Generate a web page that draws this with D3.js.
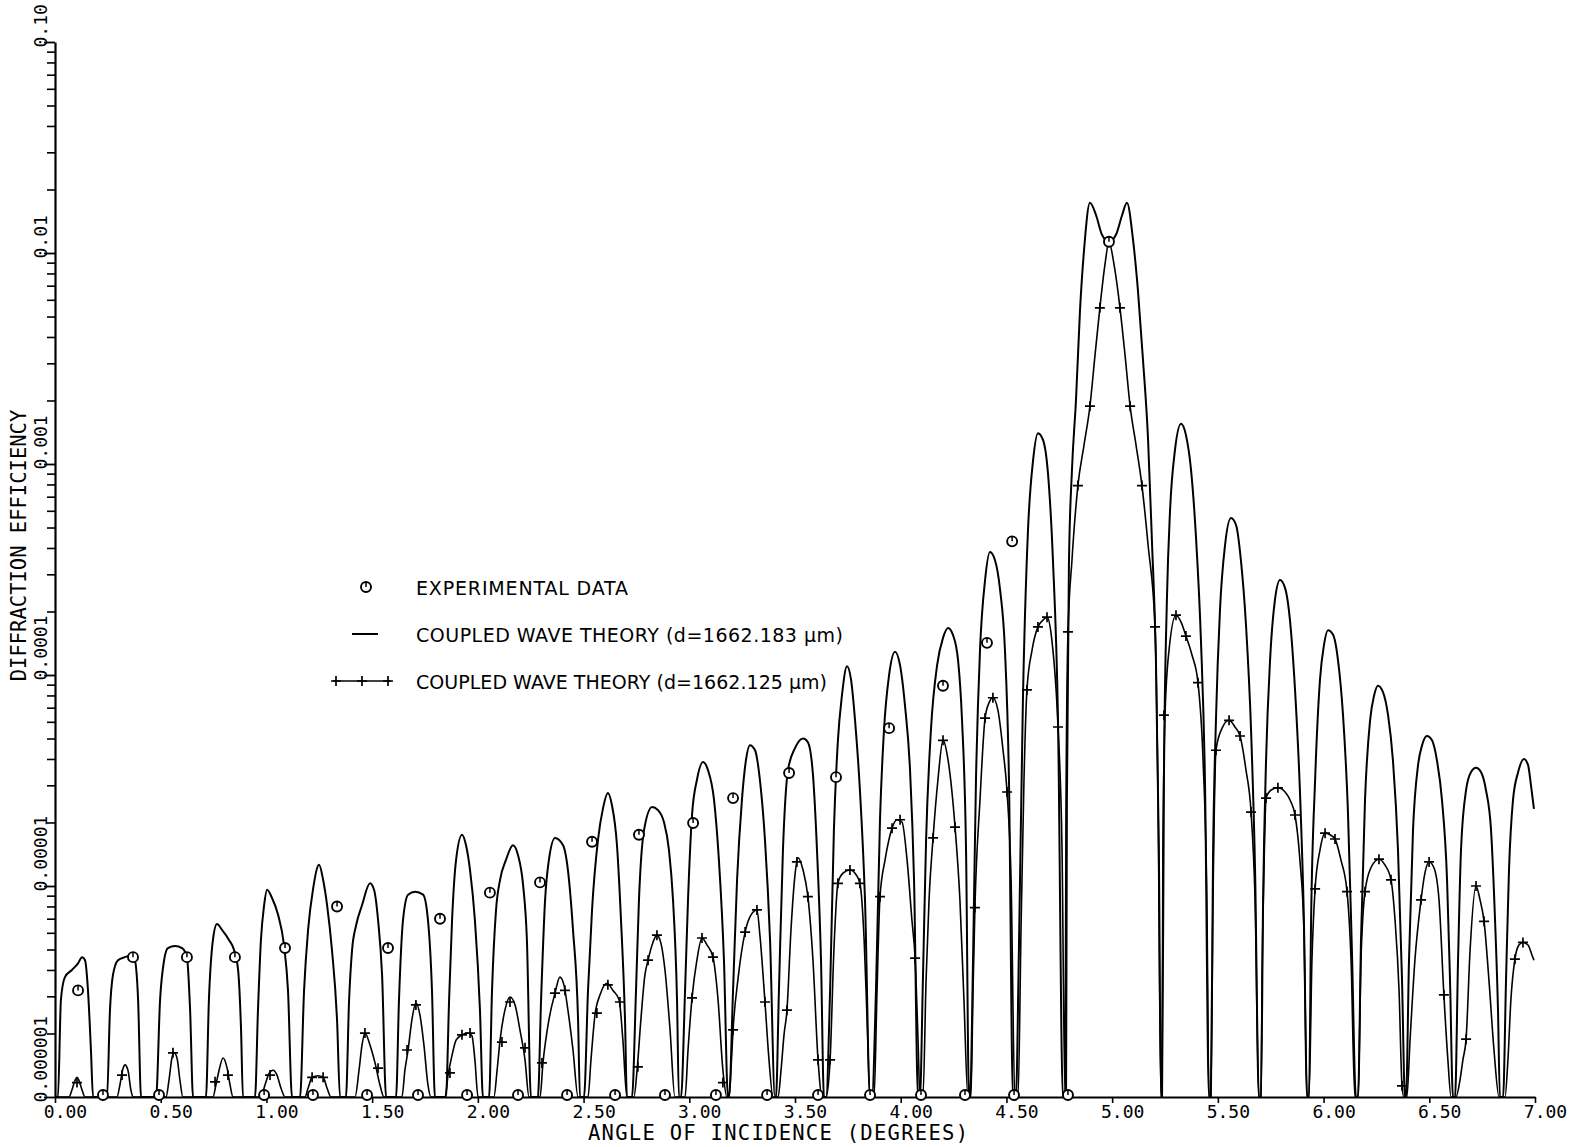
<!DOCTYPE html>
<html>
<head>
<meta charset="utf-8">
<script src="https://cdn.jsdelivr.net/npm/d3@7"></script>
<style>
  body { margin: 0; background: #fff; }
  svg { display: block; }
</style>
</head>
<body>
<script>
// Diffraction efficiency vs angle of incidence

// coupled wave theory, d = 1662.183 um : [angle (deg), efficiency]
const solidCurve = [
  [0,1e-6],[0.014,1e-6],[0.028,2.89e-6],[0.047,3.7e-6],[0.080,4.0e-6],[0.109,4.3e-6],[0.128,4.6e-6],[0.142,4.45e-6],[0.156,3.2e-6],[0.170,1.67e-6],[0.180,1e-6],
  [0.246,1e-6],[0.260,2.58e-6],[0.274,3.78e-6],[0.298,4.45e-6],[0.331,4.6e-6],[0.364,4.7e-6],[0.378,4.45e-6],[0.393,2.89e-6],[0.407,1e-6],
  [0.478,1e-6],[0.497,2.89e-6],[0.516,4.45e-6],[0.534,5.08e-6],[0.568,5.2e-6],[0.601,5.08e-6],[0.624,4.6e-6],[0.639,2.58e-6],[0.653,1e-6],
  [0.714,1e-6],[0.728,2.89e-6],[0.747,5.55e-6],[0.766,6.6e-6],[0.790,6.2e-6],[0.823,5.55e-6],[0.847,4.97e-6],[0.866,4.0e-6],[0.880,2.08e-6],[0.889,1e-6],
  [0.946,1e-6],[0.960,2.58e-6],[0.974,5.55e-6],[0.989,8.1e-6],[1.003,9.6e-6],[1.026,8.8e-6],[1.055,7.3e-6],[1.083,5.25e-6],[1.102,3.2e-6],[1.121,1e-6],
  [1.159,1e-6],[1.178,3.2e-6],[1.197,6.2e-6],[1.220,9.6e-6],[1.249,1.26e-5],[1.268,1.07e-5],[1.287,8.1e-6],[1.310,4.97e-6],[1.334,2.32e-6],[1.348,1e-6],
  [1.376,1e-6],[1.391,2.89e-6],[1.405,4.97e-6],[1.424,6.5e-6],[1.452,8.1e-6],[1.490,1.03e-5],[1.509,9.6e-6],[1.528,6.9e-6],[1.547,3.78e-6],[1.566,1e-6],
  [1.613,1e-6],[1.627,2.89e-6],[1.646,6.9e-6],[1.670,9.1e-6],[1.703,9.4e-6],[1.741,9.1e-6],[1.764,6.9e-6],[1.783,3.2e-6],[1.797,1e-6],
  [1.849,1e-6],[1.864,2.89e-6],[1.878,6.9e-6],[1.897,1.33e-5],[1.925,1.75e-5],[1.944,1.56e-5],[1.963,1.19e-5],[1.986,6.9e-6],[2.010,2.58e-6],[2.024,1e-6],
  [2.053,1e-6],[2.067,3.2e-6],[2.086,7.7e-6],[2.105,1.07e-5],[2.133,1.33e-5],[2.166,1.56e-5],[2.190,1.40e-5],[2.214,1.01e-5],[2.232,5.55e-6],[2.251,1e-6],
  [2.284,1e-6],[2.299,2.89e-6],[2.318,8.6e-6],[2.336,1.33e-5],[2.365,1.69e-5],[2.403,1.56e-5],[2.426,1.19e-5],[2.450,6.2e-6],[2.474,2.32e-6],[2.483,1e-6],
  [2.502,1e-6],[2.521,3.2e-6],[2.540,7.7e-6],[2.568,1.65e-5],[2.592,2.34e-5],[2.615,2.76e-5],[2.634,2.42e-5],[2.658,1.56e-5],[2.677,6.9e-6],[2.696,2.32e-6],[2.705,1e-6],
  [2.729,1e-6],[2.748,3.2e-6],[2.762,8.6e-6],[2.786,1.84e-5],[2.824,2.37e-5],[2.852,2.29e-5],[2.880,2.01e-5],[2.904,1.48e-5],[2.923,8.6e-6],[2.942,2.89e-6],[2.951,1e-6],
  [2.961,1e-6],[2.980,3.2e-6],[2.994,8.6e-6],[3.013,2.17e-5],[3.036,3.18e-5],[3.065,3.87e-5],[3.088,3.55e-5],[3.117,2.56e-5],[3.140,1.33e-5],[3.164,4.45e-6],[3.183,1e-6],
  [3.188,1e-6],[3.207,3.2e-6],[3.226,1.07e-5],[3.249,2.56e-5],[3.268,3.95e-5],[3.287,4.65e-5],[3.311,4.4e-5],[3.334,3.18e-5],[3.358,1.65e-5],[3.382,5.55e-6],[3.405,1e-6],
  [3.410,1e-6],[3.424,3.2e-6],[3.443,1.48e-5],[3.467,3.55e-5],[3.500,4.5e-5],[3.538,5.0e-5],[3.561,4.8e-5],[3.585,3.36e-5],[3.604,1.48e-5],[3.623,4.45e-6],[3.637,1e-6],
  [3.647,1e-6],[3.666,3.2e-6],[3.684,1.84e-5],[3.703,4.9e-5],[3.722,8.0e-5],[3.746,1.10e-4],[3.765,9.5e-5],[3.784,6.1e-5],[3.807,2.85e-5],[3.831,8.6e-6],[3.855,1e-6],
  [3.864,1e-6],[3.883,3.2e-6],[3.902,2.06e-5],[3.921,5.5e-5],[3.945,1.0e-4],[3.973,1.29e-4],[3.997,1.11e-4],[4.020,7.2e-5],[4.044,3.55e-5],[4.063,1.07e-5],[4.082,1e-6],
  [4.091,1e-6],[4.105,3.6e-6],[4.120,1.65e-5],[4.143,5.5e-5],[4.172,1.11e-4],[4.200,1.50e-4],[4.224,1.67e-4],[4.247,1.55e-4],[4.271,1.18e-4],[4.290,6.1e-5],[4.309,1.48e-5],[4.323,1e-6],
  [4.328,1e-6],[4.342,4.45e-6],[4.356,3.18e-5],[4.375,1.31e-4],[4.399,2.82e-4],[4.422,3.83e-4],[4.446,3.5e-4],[4.470,2.53e-4],[4.493,1.31e-4],[4.512,3.18e-5],[4.531,1e-6],
  [4.545,1e-6],[4.559,4.97e-6],[4.578,7.6e-5],[4.602,4.85e-4],[4.626,1.04e-3],[4.649,1.40e-3],[4.673,1.30e-3],[4.697,8.9e-4],[4.720,3.5e-4],[4.744,6.1e-5],[4.767,1e-6],
  [4.782,1e-6],[4.786,2.56e-5],[4.796,3.5e-4],[4.810,9.4e-4],[4.829,2.01e-3],[4.848,5.35e-3],[4.867,1.03e-2],[4.895,1.73e-2],[4.924,1.51e-2],[4.952,1.22e-2],[4.985,1.13e-2],
  [5.018,1.22e-2],[5.047,1.51e-2],[5.070,1.73e-2],[5.099,1.15e-2],[5.122,6.65e-3],[5.146,3.11e-3],[5.170,1.30e-3],[5.188,4.37e-4],[5.207,1.18e-4],[5.221,1.48e-5],[5.231,1e-6],
  [5.236,1e-6],[5.245,3.18e-5],[5.259,2.27e-4],[5.274,6.05e-4],[5.297,1.16e-3],[5.326,1.55e-3],[5.349,1.37e-3],[5.373,9.4e-4],[5.396,4.6e-4],[5.420,1.46e-4],[5.439,3.18e-5],[5.458,1e-6],
  [5.467,1e-6],[5.477,1.33e-5],[5.491,6.1e-5],[5.510,2.03e-4],[5.534,4.13e-4],[5.562,5.55e-4],[5.586,5.14e-4],[5.609,3.5e-4],[5.633,1.73e-4],[5.657,5.5e-5],[5.676,1.19e-5],[5.694,1e-6],
  [5.704,1e-6],[5.714,8.6e-6],[5.728,3.95e-5],[5.747,1.18e-4],[5.770,2.27e-4],[5.794,2.82e-4],[5.818,2.58e-4],[5.841,1.82e-4],[5.865,8.5e-5],[5.888,2.85e-5],[5.907,6.9e-6],[5.922,1e-6],
  [5.931,1e-6],[5.941,6.9e-6],[5.960,3.18e-5],[5.983,9.5e-5],[6.002,1.39e-4],[6.021,1.63e-4],[6.045,1.55e-4],[6.068,1.18e-4],[6.092,6.45e-5],[6.115,2.29e-5],[6.134,4.97e-6],[6.153,1e-6],
  [6.163,1e-6],[6.177,5.55e-6],[6.196,2.56e-5],[6.220,6.1e-5],[6.239,8.0e-5],[6.257,8.9e-5],[6.281,8.3e-5],[6.305,6.45e-5],[6.328,3.95e-5],[6.352,1.48e-5],[6.371,3.6e-6],[6.385,1e-6],
  [6.390,1e-6],[6.404,4.45e-6],[6.423,1.84e-5],[6.447,3.75e-5],[6.466,4.65e-5],[6.489,5.14e-5],[6.513,4.9e-5],[6.536,3.95e-5],[6.560,2.56e-5],[6.584,1.07e-5],[6.598,3.6e-6],[6.612,1e-6],
  [6.622,1e-6],[6.636,4.45e-6],[6.650,1.48e-5],[6.674,2.85e-5],[6.697,3.46e-5],[6.721,3.63e-5],[6.745,3.46e-5],[6.768,2.85e-5],[6.792,1.84e-5],[6.811,6.9e-6],[6.825,2.58e-6],[6.834,1e-6],
  [6.849,1e-6],[6.863,3.6e-6],[6.877,1.19e-5],[6.896,2.56e-5],[6.920,3.46e-5],[6.948,4.0e-5],[6.967,3.75e-5],[6.981,3.0e-5],[6.995,2.32e-5]
];

// coupled wave theory, d = 1662.125 um
const crossCurve = [
  [0,1e-6],[0.066,1e-6],[0.080,1.08e-6],[0.095,1.20e-6],[0.104,1.24e-6],[0.113,1.20e-6],[0.128,1.08e-6],[0.142,1e-6],
  [0.293,1e-6],[0.307,1.14e-6],[0.322,1.37e-6],[0.331,1.42e-6],[0.345,1.34e-6],[0.359,1.08e-6],[0.369,1e-6],
  [0.525,1e-6],[0.539,1.20e-6],[0.553,1.53e-6],[0.563,1.62e-6],[0.577,1.53e-6],[0.591,1.20e-6],[0.605,1e-6],
  [0.747,1e-6],[0.761,1.14e-6],[0.776,1.34e-6],[0.795,1.53e-6],[0.814,1.37e-6],[0.828,1.14e-6],[0.842,1e-6],
  [0.974,1e-6],[0.993,1.14e-6],[1.012,1.29e-6],[1.031,1.34e-6],[1.050,1.27e-6],[1.069,1.10e-6],[1.088,1e-6],
  [1.182,1e-6],[1.197,1.10e-6],[1.216,1.24e-6],[1.244,1.26e-6],[1.268,1.24e-6],[1.287,1.10e-6],[1.305,1e-6],
  [1.419,1e-6],[1.438,1.34e-6],[1.452,1.76e-6],[1.466,2.01e-6],[1.490,1.76e-6],[1.513,1.46e-6],[1.537,1.14e-6],[1.556,1e-6],
  [1.641,1e-6],[1.655,1.34e-6],[1.670,1.67e-6],[1.688,2.32e-6],[1.707,2.79e-6],[1.726,2.45e-6],[1.745,1.76e-6],[1.764,1.14e-6],[1.778,1e-6],
  [1.845,1e-6],[1.859,1.27e-6],[1.878,1.58e-6],[1.897,1.86e-6],[1.925,1.97e-6],[1.953,2.01e-6],[1.972,1.95e-6],[1.986,1.50e-6],[2.001,1e-6],
  [2.076,1e-6],[2.091,1.34e-6],[2.105,1.86e-6],[2.128,2.58e-6],[2.152,2.98e-6],[2.176,2.73e-6],[2.199,2.08e-6],[2.223,1.50e-6],[2.242,1e-6],
  [2.294,1e-6],[2.308,1.45e-6],[2.336,2.32e-6],[2.365,3.11e-6],[2.388,3.70e-6],[2.407,3.4e-6],[2.426,2.58e-6],[2.450,1.67e-6],[2.474,1e-6],
  [2.521,1e-6],[2.535,1.50e-6],[2.554,2.45e-6],[2.578,3.05e-6],[2.611,3.46e-6],[2.639,3.2e-6],[2.668,2.89e-6],[2.686,1.86e-6],[2.705,1e-6],
  [2.738,1e-6],[2.753,1.34e-6],[2.771,2.32e-6],[2.790,3.78e-6],[2.805,4.45e-6],[2.828,5.4e-6],[2.847,5.85e-6],[2.866,5.35e-6],[2.885,4.0e-6],[2.909,2.08e-6],[2.932,1e-6],
  [2.980,1e-6],[2.994,1.67e-6],[3.013,2.95e-6],[3.036,4.45e-6],[3.060,5.67e-6],[3.084,5.25e-6],[3.112,4.6e-6],[3.136,2.89e-6],[3.159,1.34e-6],[3.178,1e-6],
  [3.188,1e-6],[3.197,1.34e-6],[3.207,2.08e-6],[3.230,3.6e-6],[3.264,6.05e-6],[3.292,7.3e-6],[3.320,7.7e-6],[3.334,5.85e-6],[3.358,2.82e-6],[3.377,1.50e-6],[3.396,1e-6],
  [3.420,1e-6],[3.434,1.34e-6],[3.448,1.97e-6],[3.462,2.58e-6],[3.481,6.2e-6],[3.500,1.13e-5],[3.514,1.36e-5],[3.538,1.19e-5],[3.561,8.9e-6],[3.585,4.45e-6],[3.609,1.50e-6],[3.628,1e-6],
  [3.647,1e-6],[3.666,1.50e-6],[3.684,4.97e-6],[3.703,1.03e-5],[3.727,1.15e-5],[3.760,1.19e-5],[3.789,1.13e-5],[3.807,1.03e-5],[3.827,5.55e-6],[3.841,2.32e-6],[3.855,1e-6],
  [3.874,1e-6],[3.888,3.2e-6],[3.902,8.9e-6],[3.926,1.33e-5],[3.959,1.88e-5],[3.982,2.06e-5],[4.006,2.01e-5],[4.030,1.33e-5],[4.053,6.9e-6],[4.068,4.55e-6],[4.082,1.86e-6],[4.091,1e-6],
  [4.105,1e-6],[4.120,3.6e-6],[4.134,8.6e-6],[4.153,1.69e-5],[4.176,3.18e-5],[4.200,4.9e-5],[4.224,3.95e-5],[4.257,1.90e-5],[4.280,8.6e-6],[4.299,2.89e-6],[4.318,1e-6],
  [4.332,1e-6],[4.342,3.2e-6],[4.351,7.9e-6],[4.375,2.56e-5],[4.399,6.25e-5],[4.418,7.4e-5],[4.436,7.8e-5],[4.460,6.8e-5],[4.484,4.4e-5],[4.503,2.79e-5],[4.522,1.07e-5],[4.540,1e-6],
  [4.555,1e-6],[4.569,6.2e-6],[4.583,3.18e-5],[4.597,8.5e-5],[4.621,1.31e-4],[4.649,1.69e-4],[4.673,1.82e-4],[4.692,1.88e-4],[4.715,1.46e-4],[4.744,5.67e-5],[4.763,1.48e-5],[4.777,1e-6],
  [4.782,2.56e-5],[4.791,1.58e-4],[4.810,3.5e-4],[4.838,7.9e-4],[4.867,1.23e-3],[4.895,1.88e-3],[4.919,3.28e-3],[4.942,5.5e-3],[4.966,8.8e-3],[4.985,1.13e-2],
  [5.009,8.8e-3],[5.037,5.5e-3],[5.061,3.28e-3],[5.085,1.88e-3],[5.113,1.23e-3],[5.141,7.9e-4],[5.170,4.13e-4],[5.203,1.69e-4],[5.217,2.56e-5],[5.231,1e-6],
  [5.236,1e-6],[5.240,1.48e-5],[5.250,6.45e-5],[5.269,1.31e-4],[5.302,1.92e-4],[5.326,1.78e-4],[5.349,1.53e-4],[5.378,1.24e-4],[5.406,9.2e-5],[5.430,3.95e-5],[5.448,8.6e-6],[5.458,1e-6],
  [5.467,1e-6],[5.477,8.6e-6],[5.491,4.4e-5],[5.520,5.6e-5],[5.553,6.1e-5],[5.581,5.67e-5],[5.605,5.14e-5],[5.633,3.55e-5],[5.657,2.24e-5],[5.676,8.6e-6],[5.694,1e-6],
  [5.704,1e-6],[5.709,3.6e-6],[5.718,1.19e-5],[5.728,2.61e-5],[5.752,2.85e-5],[5.784,2.92e-5],[5.818,2.79e-5],[5.846,2.5e-5],[5.865,2.17e-5],[5.888,1.33e-5],[5.907,6.2e-6],[5.922,1e-6],
  [5.931,1e-6],[5.945,4.45e-6],[5.960,9.7e-6],[5.983,1.48e-5],[6.007,1.78e-5],[6.030,1.75e-5],[6.054,1.67e-5],[6.082,1.33e-5],[6.111,9.4e-6],[6.130,4.45e-6],[6.148,1e-6],
  [6.163,1e-6],[6.177,4.45e-6],[6.196,9.4e-6],[6.224,1.22e-5],[6.262,1.34e-5],[6.290,1.26e-5],[6.319,1.07e-5],[6.338,6.9e-6],[6.357,3.2e-6],[6.371,1.13e-6],[6.380,1e-6],
  [6.394,1e-6],[6.409,1.86e-6],[6.432,4.45e-6],[6.461,8.6e-6],[6.480,1.16e-5],[6.499,1.30e-5],[6.522,1.22e-5],[6.546,8.6e-6],[6.569,3.05e-6],[6.588,1.50e-6],[6.603,1e-6],
  [6.626,1e-6],[6.645,1.20e-6],[6.659,1.50e-6],[6.674,1.88e-6],[6.693,4.97e-6],[6.721,1.0e-5],[6.740,8.6e-6],[6.759,6.8e-6],[6.782,3.6e-6],[6.806,1.67e-6],[6.830,1e-6],
  [6.858,1e-6],[6.872,1.50e-6],[6.886,2.89e-6],[6.905,4.5e-6],[6.924,5.25e-6],[6.943,5.4e-6],[6.967,5.25e-6],[6.986,4.7e-6],[6.995,4.45e-6]
];

// "+" symbols drawn on the d = 1662.125 um curve
const crossMarks = [
  [0.104,1.17e-6],[0.317,1.27e-6],[0.558,1.62e-6],[0.757,1.18e-6],[0.818,1.27e-6],[1.017,1.27e-6],[1.216,1.24e-6],[1.268,1.24e-6],
  [1.466,2.01e-6],[1.528,1.37e-6],[1.665,1.67e-6],[1.707,2.73e-6],[1.868,1.30e-6],[1.925,1.97e-6],[1.963,2.01e-6],[2.114,1.82e-6],
  [2.152,2.82e-6],[2.223,1.71e-6],[2.303,1.45e-6],[2.365,3.11e-6],[2.412,3.2e-6],[2.563,2.5e-6],[2.615,3.4e-6],[2.672,2.82e-6],
  [2.757,1.39e-6],[2.805,4.45e-6],[2.847,5.85e-6],[3.013,2.95e-6],[3.060,5.67e-6],[3.112,4.6e-6],[3.159,1.17e-6],[3.207,2.08e-6],
  [3.264,6.05e-6],[3.320,7.7e-6],[3.358,2.82e-6],[3.462,2.58e-6],[3.509,1.30e-5],[3.561,8.9e-6],[3.609,1.50e-6],[3.666,1.50e-6],
  [3.703,1.03e-5],[3.760,1.19e-5],[3.807,1.03e-5],[3.902,8.9e-6],[3.959,1.88e-5],[3.997,2.06e-5],[4.068,4.55e-6],[4.153,1.69e-5],
  [4.200,4.9e-5],[4.257,1.90e-5],[4.351,7.9e-6],[4.399,6.25e-5],[4.436,7.8e-5],[4.503,2.79e-5],[4.597,8.5e-5],[4.649,1.69e-4],
  [4.692,1.88e-4],[4.744,5.67e-5],[4.791,1.6e-4],[4.838,7.9e-4],[4.895,1.88e-3],[4.942,5.5e-3],[4.985,1.13e-2],[5.037,5.5e-3],
  [5.085,1.88e-3],[5.141,7.9e-4],[5.203,1.69e-4],[5.245,6.45e-5],[5.302,1.92e-4],[5.349,1.53e-4],[5.406,9.2e-5],[5.491,4.4e-5],
  [5.553,6.1e-5],[5.605,5.14e-5],[5.657,2.24e-5],[5.728,2.61e-5],[5.784,2.92e-5],[5.865,2.17e-5],[5.960,9.7e-6],[6.007,1.78e-5],
  [6.054,1.67e-5],[6.111,9.4e-6],[6.196,9.4e-6],[6.262,1.34e-5],[6.319,1.07e-5],[6.371,1.13e-6],[6.461,8.6e-6],[6.499,1.30e-5],
  [6.569,3.05e-6],[6.674,1.88e-6],[6.721,1.0e-5],[6.759,6.8e-6],[6.905,4.5e-6],[6.943,5.4e-6]
];

// experimental data
const expPoints = [
  [0.109,3.2e-6],[0.369,4.6e-6],[0.624,4.6e-6],[0.851,4.6e-6],[1.088,5.08e-6],[1.334,8.0e-6],[1.575,5.08e-6],
  [1.821,7.0e-6],[2.057,9.3e-6],[2.294,1.04e-5],[2.540,1.62e-5],[2.762,1.75e-5],[3.018,1.99e-5],[3.207,2.61e-5],
  [3.472,3.43e-5],[3.694,3.28e-5],[3.945,5.6e-5],[4.200,8.9e-5],[4.408,1.42e-4],[4.527,4.3e-4],[4.985,1.13e-2]
];
// experimental points at (or below) the bottom of the scale
const expFloorAngles = [0.227,0.492,0.989,1.220,1.476,1.717,1.949,2.190,2.422,2.649,2.885,3.126,3.368,3.609,3.855,4.096,4.304,4.536,4.791];
const expFloor = 1e-6;

const xTicks = [0,0.5,1,1.5,2,2.5,3,3.5,4,4.5,5,5.5,6,6.5,7];
const yDecades = [1e-6,1e-5,1e-4,1e-3,1e-2,1e-1];
const yLabels = ["0.000001","0.00001","0.0001","0.001","0.01","0.10"];
const legendLabels = [
  "EXPERIMENTAL DATA",
  "COUPLED WAVE THEORY (d=1662.183 \u03bcm)",
  "COUPLED WAVE THEORY (d=1662.125 \u03bcm)"
];

const width = 1570, height = 1147;
const mono = "'DejaVu Sans Mono', monospace";
const sans = "'DejaVu Sans', sans-serif";

const svg = d3.select("body").append("svg")
    .attr("width", width)
    .attr("height", height);

svg.append("rect").attr("width", width).attr("height", height).attr("fill", "#fff");

const x = d3.scaleLinear().domain([0, 7]).range([55, 1535]);
const y = d3.scaleLog().domain([1e-6, 0.1]).range([1097, 42]).clamp(true);

// x axis
const xAxis = svg.append("g")
    .attr("transform", `translate(0,${y(1e-6)})`)
    .call(d3.axisBottom(x).tickValues(xTicks).tickFormat(d3.format(".2f")).tickSize(6).tickSizeOuter(0));
xAxis.select(".domain").attr("stroke-width", 2.2);
xAxis.selectAll(".tick line").attr("stroke-width", 1.6);
xAxis.selectAll("text")
    .attr("font-family", mono)
    .attr("font-size", 18)
    .attr("fill", "#000")
    .attr("y", 21)
    .attr("dy", null)
    .attr("dx", 10);

// y axis: minor ticks
const minorTicks = [];
yDecades.slice(0, -1).forEach(d => {
    for (let k = 2; k <= 9; k++) minorTicks.push(k * d);
});
svg.append("g")
    .attr("transform", `translate(${x(0)},0)`)
    .call(d3.axisLeft(y).tickValues(minorTicks).tickFormat("").tickSize(8).tickSizeOuter(0))
    .call(g => g.select(".domain").remove())
    .selectAll(".tick line").attr("stroke-width", 1.6);

// y axis: decades with rotated labels
const yAxis = svg.append("g")
    .attr("transform", `translate(${x(0)},0)`)
    .call(d3.axisLeft(y).tickValues(yDecades).tickFormat((d, i) => yLabels[i]).tickSize(11).tickSizeOuter(0));
yAxis.select(".domain").attr("stroke-width", 2.2);
yAxis.selectAll(".tick line").attr("stroke-width", 1.8);
yAxis.selectAll("text")
    .attr("font-family", mono)
    .attr("font-size", 18)
    .attr("fill", "#000")
    .attr("x", 0)
    .attr("dy", null)
    .attr("text-anchor", "start")
    .attr("transform", "translate(-8,5) rotate(-90)");

// axis titles
svg.append("text")
    .attr("transform", `translate(26,${(y(1e-4) + y(1e-3)) / 2 - 24}) rotate(-90)`)
    .attr("text-anchor", "middle")
    .attr("font-family", mono)
    .attr("font-size", 20.5)
    .text("DIFFRACTION EFFICIENCY");

svg.append("text")
    .attr("x", 588)
    .attr("y", 1140)
    .attr("font-family", mono)
    .attr("font-size", 20.5)
    .attr("textLength", 380)
    .attr("lengthAdjust", "spacing")
    .text("ANGLE OF INCIDENCE (DEGREES)");

// curves
const line = d3.line()
    .x(d => x(d[0]))
    .y(d => y(d[1]))
    .curve(d3.curveMonotoneX);

svg.append("path")
    .datum(crossCurve)
    .attr("fill", "none")
    .attr("stroke", "#000")
    .attr("stroke-width", 1.6)
    .attr("d", line);

svg.append("path")
    .datum(solidCurve)
    .attr("fill", "none")
    .attr("stroke", "#000")
    .attr("stroke-width", 2)
    .attr("d", line);

// symbols
function plus(g, cx, cy, r) {
    g.append("path")
        .attr("d", `M${cx - r},${cy}H${cx + r}M${cx},${cy - r}V${cy + r}`)
        .attr("stroke", "#000")
        .attr("stroke-width", 1.7);
}
function ring(g, cx, cy) {
    g.append("circle")
        .attr("cx", cx).attr("cy", cy).attr("r", 5)
        .attr("fill", "#fff")
        .attr("stroke", "#000")
        .attr("stroke-width", 1.9);
    g.append("path")
        .attr("d", `M${cx},${cy - 5}V${cy}`)
        .attr("stroke", "#000")
        .attr("stroke-width", 1.5);
}

const marks = svg.append("g");
crossMarks.forEach(d => plus(marks, x(d[0]), y(d[1]), 5));

const expG = svg.append("g");
expPoints.forEach(d => ring(expG, x(d[0]), y(d[1])));
expFloorAngles.forEach(a => ring(expG, x(a), y(expFloor) - 2));

// legend
const legend = svg.append("g");
const rowsY = [587, 634, 681];
ring(legend, 366, rowsY[0]);
legend.append("path")
    .attr("d", `M352,${rowsY[1]}H378`)
    .attr("stroke", "#000").attr("stroke-width", 2);
legend.append("path")
    .attr("d", `M333,${rowsY[2]}H391`)
    .attr("stroke", "#000").attr("stroke-width", 1.6);
[336, 362, 388].forEach(cx => plus(legend, cx, rowsY[2], 5));

const textEnds = [628, 843, 827];
legendLabels.forEach((t, i) => {
    legend.append("text")
        .attr("x", 416)
        .attr("y", rowsY[i] + 7.5)
        .attr("font-family", sans)
        .attr("font-size", 19)
        .attr("textLength", textEnds[i] - 416)
        .attr("lengthAdjust", "spacing")
        .text(t);
});
</script>
</body>
</html>
